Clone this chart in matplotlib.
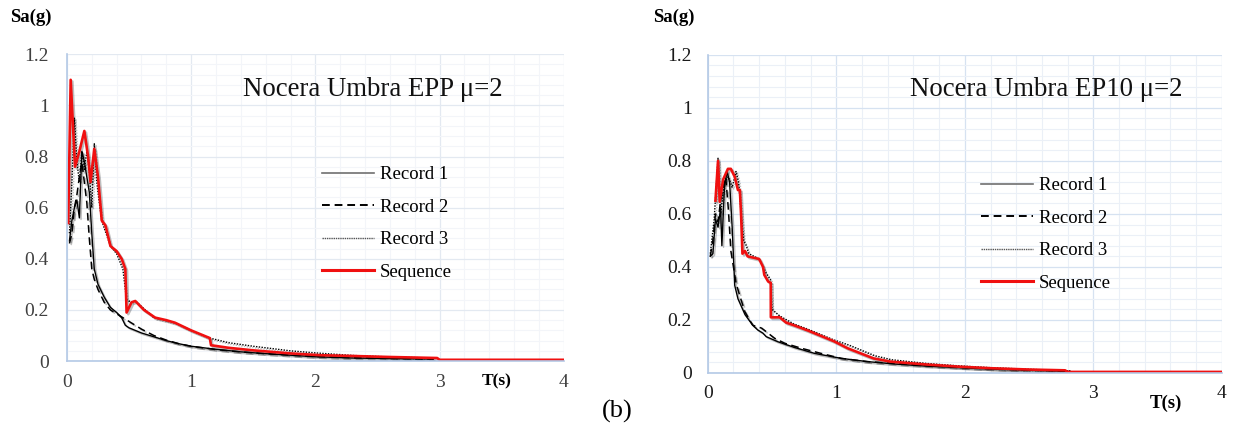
import matplotlib
matplotlib.use("Agg")
import matplotlib.pyplot as plt
import matplotlib.patheffects as pe
from matplotlib.ticker import MultipleLocator

plt.rcParams['font.family'] = ['Liberation Serif', 'DejaVu Serif']

# ---- left panel: Nocera Umbra EPP ----
T_r1_L = [0.02, 0.04, 0.06, 0.08, 0.10, 0.12, 0.14, 0.16, 0.18, 0.20, 0.22, 0.25, 0.30, 0.35, 0.40, 0.44,
          0.47, 0.50, 0.60, 0.70, 0.80, 0.90, 1.00, 1.20, 1.40, 1.60, 1.80, 2.00, 2.30, 2.60, 2.95]
Sa_r1_L = [0.47, 0.55, 0.60, 0.63, 0.56, 0.82, 0.78, 0.72, 0.66, 0.50, 0.36, 0.30, 0.25, 0.21, 0.19, 0.17,
           0.14, 0.13, 0.11, 0.095, 0.08, 0.068, 0.058, 0.046, 0.036, 0.029, 0.023, 0.017, 0.012, 0.010, 0.008]

T_r2_L = [0.02, 0.04, 0.06, 0.08, 0.10, 0.12, 0.14, 0.16, 0.18, 0.20, 0.22, 0.25, 0.30, 0.35, 0.40, 0.45,
          0.50, 0.60, 0.70, 0.80, 0.90, 1.00, 1.20, 1.40, 1.60, 1.80, 2.00, 2.30, 2.60, 2.95]
Sa_r2_L = [0.46, 0.50, 0.60, 0.65, 0.72, 0.78, 0.70, 0.62, 0.48, 0.36, 0.32, 0.28, 0.23, 0.20, 0.185, 0.17,
           0.155, 0.125, 0.10, 0.082, 0.068, 0.058, 0.045, 0.036, 0.029, 0.023, 0.018, 0.013, 0.010, 0.008]

T_r3_L = [0.02, 0.04, 0.06, 0.08, 0.10, 0.12, 0.14, 0.16, 0.18, 0.20, 0.22, 0.24, 0.26, 0.28, 0.30, 0.35,
          0.40, 0.45, 0.48, 0.52, 0.55, 0.70, 0.87, 1.00, 1.15, 1.30, 1.50, 1.80, 2.00, 2.30, 2.60, 2.95]
Sa_r3_L = [0.50, 0.70, 0.95, 0.78, 0.70, 0.82, 0.75, 0.82, 0.74, 0.60, 0.85, 0.70, 0.62, 0.55, 0.52, 0.45,
           0.42, 0.36, 0.24, 0.23, 0.235, 0.17, 0.15, 0.12, 0.09, 0.072, 0.058, 0.04, 0.032, 0.022, 0.016, 0.012]

T_seq_L = [0.01, 0.03, 0.065, 0.10, 0.14, 0.17, 0.19, 0.22, 0.25, 0.28, 0.31, 0.35, 0.40, 0.44, 0.47, 0.48,
           0.52, 0.55, 0.62, 0.71, 0.80, 0.87, 1.00, 1.15, 1.16, 1.30, 1.50, 1.80, 2.04, 2.30, 2.60, 2.98,
           3.00, 4.00]
Sa_seq_L = [0.54, 1.10, 0.76, 0.82, 0.90, 0.80, 0.70, 0.83, 0.72, 0.55, 0.53, 0.45, 0.43, 0.40, 0.36, 0.19,
            0.23, 0.235, 0.20, 0.17, 0.16, 0.15, 0.12, 0.09, 0.062, 0.052, 0.042, 0.030, 0.023, 0.020, 0.016,
            0.012, 0.005, 0.005]

# ---- right panel: Nocera Umbra EP10 ----
T_r1_R = [0.02, 0.04, 0.06, 0.08, 0.10, 0.11, 0.13, 0.15, 0.17, 0.19, 0.21, 0.235, 0.29, 0.35, 0.39, 0.43,
          0.455, 0.545, 0.67, 0.83, 1.04, 1.24, 1.45, 1.70, 2.00, 2.30, 2.60, 2.82]
Sa_r1_R = [0.44, 0.45, 0.58, 0.55, 0.62, 0.48, 0.70, 0.76, 0.72, 0.55, 0.33, 0.28, 0.22, 0.18, 0.162, 0.15,
           0.137, 0.118, 0.097, 0.074, 0.055, 0.043, 0.034, 0.026, 0.019, 0.013, 0.009, 0.006]

T_r2_R = [0.02, 0.04, 0.06, 0.08, 0.10, 0.12, 0.14, 0.16, 0.18, 0.20, 0.22, 0.25, 0.29, 0.35, 0.42, 0.52,
          0.60, 0.73, 0.88, 1.04, 1.24, 1.45, 1.70, 2.00, 2.30, 2.60, 2.82]
Sa_r2_R = [0.44, 0.50, 0.60, 0.57, 0.65, 0.70, 0.74, 0.62, 0.46, 0.40, 0.34, 0.29, 0.23, 0.18, 0.169, 0.131,
           0.112, 0.093, 0.074, 0.055, 0.043, 0.036, 0.028, 0.020, 0.014, 0.010, 0.007]

T_r3_R = [0.02, 0.05, 0.08, 0.10, 0.13, 0.16, 0.19, 0.22, 0.24, 0.26, 0.28, 0.30, 0.32, 0.40, 0.45, 0.49,
          0.50, 0.56, 0.67, 0.78, 0.88, 0.98, 1.10, 1.20, 1.30, 1.43, 1.70, 1.95, 2.20, 2.50, 2.82]
Sa_r3_R = [0.45, 0.58, 0.81, 0.60, 0.72, 0.74, 0.70, 0.76, 0.72, 0.60, 0.50, 0.48, 0.45, 0.43, 0.38, 0.35,
           0.24, 0.215, 0.185, 0.165, 0.145, 0.125, 0.105, 0.085, 0.065, 0.05, 0.036, 0.027, 0.02, 0.014, 0.008]

T_seq_R = [0.06, 0.08, 0.093, 0.12, 0.157, 0.18, 0.21, 0.235, 0.25, 0.26, 0.27, 0.29, 0.31, 0.40, 0.43, 0.44,
           0.47, 0.49, 0.491, 0.56, 0.61, 0.67, 0.78, 0.88, 0.98, 1.09, 1.19, 1.29, 1.42, 1.70, 1.95, 2.20,
           2.50, 2.78, 2.80, 4.00]
Sa_seq_R = [0.65, 0.80, 0.646, 0.73, 0.77, 0.77, 0.74, 0.69, 0.69, 0.59, 0.45, 0.46, 0.44, 0.43, 0.40, 0.37,
            0.345, 0.34, 0.21, 0.21, 0.19, 0.18, 0.16, 0.14, 0.12, 0.093, 0.074, 0.055, 0.043, 0.032, 0.024,
            0.018, 0.013, 0.010, 0.004, 0.004]

labels = ['Record 1', 'Record 2', 'Record 3', 'Sequence']
titles = ['Nocera Umbra EPP \u03bc=2', 'Nocera Umbra EP10 \u03bc=2']

fig = plt.figure(figsize=(12.33, 4.34), dpi=100)
axL = fig.add_axes([0.0543, 0.168, 0.403, 0.707])
axR = fig.add_axes([0.574, 0.1406, 0.417, 0.733])

shadow = [pe.SimpleLineShadow(offset=(1.2, -1.2), alpha=0.25), pe.Normal()]


def draw(ax, series, title, tick_color, major_c, minor_c, leg_anchor, title_xy, ypad):
    (t1, s1), (t2, s2), (t3, s3), (ts, ss) = series
    ax.plot(t1, s1, color='black', lw=1.0, path_effects=shadow)
    ax.plot(t2, s2, color='black', lw=1.1, ls=(0, (5, 3)), path_effects=shadow)
    ax.plot(t3, s3, color='black', lw=1.0, ls=(0, (1, 1)), path_effects=shadow)
    ax.plot(ts, ss, color='#f01010', lw=1.9, path_effects=shadow)
    ax.set_xlim(0, 4)
    ax.set_ylim(0, 1.2)
    ax.xaxis.set_minor_locator(MultipleLocator(0.2))
    ax.yaxis.set_minor_locator(MultipleLocator(0.04))
    ax.set_xticks([0, 1, 2, 3, 4], ['0', '1', '2', '3', '4'])
    ax.set_yticks([0, 0.2, 0.4, 0.6, 0.8, 1.0, 1.2], ['0', '0.2', '0.4', '0.6', '0.8', '1', '1.2'])
    ax.grid(which='major', color=major_c, lw=0.9)
    ax.grid(which='minor', color=minor_c, lw=0.8)
    ax.set_axisbelow(True)
    ax.tick_params(which='both', length=0)
    ax.tick_params(axis='y', pad=ypad, labelsize=14, labelcolor=tick_color)
    ax.tick_params(axis='x', pad=9, labelsize=14, labelcolor=tick_color)
    for s in ['top', 'right']:
        ax.spines[s].set_visible(False)
    for s in ['left', 'bottom']:
        ax.spines[s].set_color('#b4c9e6')
        ax.spines[s].set_linewidth(1.2)
    ax.text(title_xy[0], title_xy[1], title, transform=ax.transAxes, fontsize=19.3,
            color='#111111', ha='left', va='center')
    handles = [
        plt.Line2D([], [], color='#707070', lw=1.2),
        plt.Line2D([], [], color='black', lw=1.4, ls=(0, (4, 2.5))),
        plt.Line2D([], [], color='#555555', lw=1.0, ls=(0, (1, 0.6))),
        plt.Line2D([], [], color='#f01010', lw=2.2),
    ]
    ax.legend(handles, labels, loc='upper left', bbox_to_anchor=leg_anchor, frameon=False,
              fontsize=13.5, handlelength=2.8, handletextpad=0.3, labelspacing=0.82,
              borderpad=0, borderaxespad=0)


draw(axL, [(T_r1_L, Sa_r1_L), (T_r2_L, Sa_r2_L), (T_r3_L, Sa_r3_L), (T_seq_L, Sa_seq_L)],
     titles[0], '#404040', '#e3e9f1', '#f3f5f9', (0.513, 0.635), (0.355, 0.885), 13)
draw(axR, [(T_r1_R, Sa_r1_R), (T_r2_R, Sa_r2_R), (T_r3_R, Sa_r3_R), (T_seq_R, Sa_seq_R)],
     titles[1], '#1a1a1a', '#d6e2f1', '#ebf0f7', (0.531, 0.615), (0.393, 0.892), 11.5)

fig.text(10 / 1233, 1 - 17 / 434, 'Sa(g)', fontsize=13.5, fontweight='bold', ha='left', va='center')
fig.text(653 / 1233, 1 - 17 / 434, 'Sa(g)', fontsize=13.5, fontweight='bold', ha='left', va='center')
fig.text(482 / 1233, 1 - 381 / 434, 'T(s)', fontsize=12.5, fontweight='bold', ha='left', va='center')
fig.text(1150 / 1233, 1 - 403 / 434, 'T(s)', fontsize=13.5, fontweight='bold', ha='left', va='center')
fig.text(617 / 1233, 1 - 411 / 434, '(b)', fontsize=19, ha='center', va='center')

fig.savefig('out.png', dpi=100)
